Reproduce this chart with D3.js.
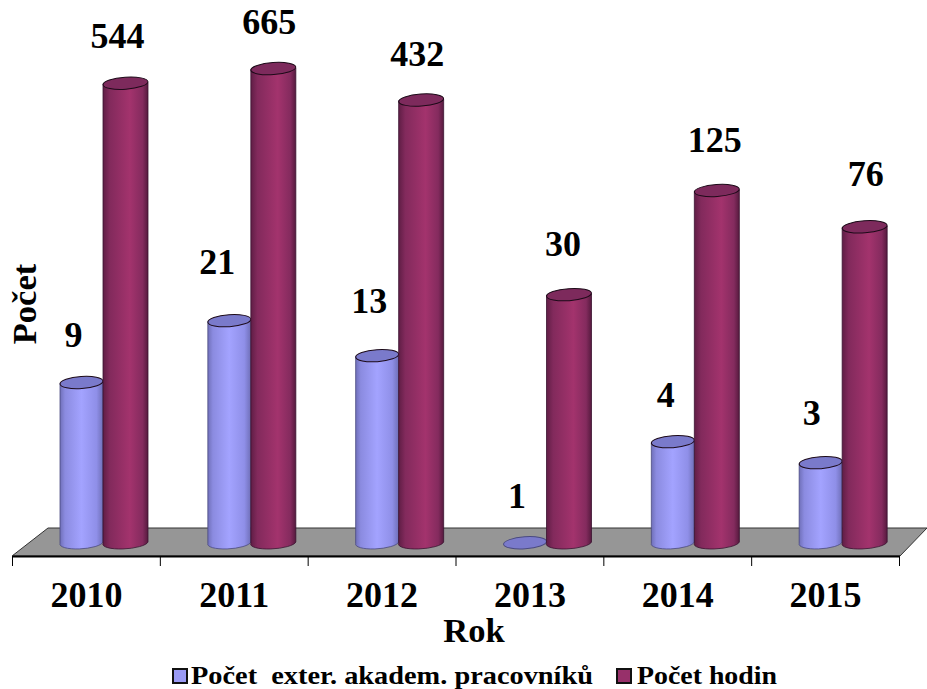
<!DOCTYPE html>
<html>
<head>
<meta charset="utf-8">
<script src="https://cdn.jsdelivr.net/npm/d3@7/dist/d3.min.js"></script>
<style>
  html, body { margin: 0; padding: 0; background: #fff; }
  svg { display: block; }
  text { font-family: "Liberation Serif", serif; font-weight: bold; fill: #000; white-space: pre; }
</style>
</head>
<body>
<svg id="chart" width="927" height="689"></svg>
<script>
const years = ["2010", "2011", "2012", "2013", "2014", "2015"];
const staffCounts = [9, 21, 13, 1, 4, 3];
const hourCounts = [544, 665, 432, 30, 125, 76];
const seriesNames = ["Počet  exter. akadem. pracovníků", "Počet hodin"];
// Per-label adjustments: lift above the column and sideways shift
const staffLabelLift = [0, 11, 7, 0, -1, 2];
const hourLabelLift = [0, -1, -1, 3, 3, 6];
const staffLabelShift = [0, -4, 0, 0, 1, -1];
const hourLabelShift = [0, 4, 4, 2, 6, 9];

const svg = d3.select("#chart");
const defs = svg.append("defs");

const x = d3.scaleBand().domain(years).range([12.5, 899.5]);
const member = d3.scalePoint().domain(seriesNames).range([69, 113]);
const y = d3.scaleLog().domain([1, 1000]).range([543.5, 39.5]);

function bodyGradient(id, stops) {
  const g = defs.append("linearGradient").attr("id", id);
  stops.forEach(([o, c]) => g.append("stop").attr("offset", o).attr("stop-color", c));
}
bodyGradient("staffBody", [[0, "#6f6fb8"], [0.12, "#8b8be0"], [0.5, "#a3a3ff"], [0.85, "#8f8fe8"], [1, "#6f6fb8"]]);
bodyGradient("hourBody", [[0, "#5f1d45"], [0.15, "#822a5c"], [0.6, "#a3336d"], [0.88, "#842b5e"], [1, "#561a3e"]]);

// Floor of the 3D plot
const floorPts = [[12, 556], [48, 528], [927, 528], [900, 556]];
svg.append("path")
  .attr("d", d3.line()(floorPts) + "Z")
  .attr("fill", "#969696")
  .attr("stroke", "#333")
  .attr("stroke-width", 1);

// Category axis: labels centred in the bands, ticks on the band edges
const axisY = 556;
const axis = svg.append("g")
  .attr("transform", `translate(0,${axisY})`)
  .call(d3.axisBottom(x).tickSize(0).tickPadding(25));
axis.select(".domain").attr("stroke", "#000").attr("stroke-width", 2);
axis.selectAll("text").attr("font-size", 36).attr("font-family", null);
const edges = years.map(d => x(d)).concat(x.range()[1]);
axis.selectAll("line.edge").data(edges).join("line")
  .attr("class", "edge")
  .attr("x1", d => d).attr("x2", d => d)
  .attr("y1", 0).attr("y2", 10)
  .attr("stroke", "#000").attr("stroke-width", 1);

const ry = 6, tilt = -4;

function drawColumns(values, name, bodyFill, capFill, edgeColor, r) {
  const g = svg.append("g");
  years.forEach((yr, i) => {
    const v = values[i];
    const cx = x(yr) + member(name);
    const top = y(v), base = y(1);
    const col = g.append("g");
    if (v > 1) {
      col.append("path")
        .attr("d", `M${cx - r},${top} L${cx - r},${base} A${r},${ry} ${tilt} 0 0 ${cx + r},${base - 1.5} L${cx + r},${top - 1.5} Z`)
        .attr("fill", bodyFill)
        .attr("stroke", edgeColor)
        .attr("stroke-width", 0.8);
    }
    col.append("ellipse")
      .attr("cx", cx).attr("cy", top - 0.7)
      .attr("rx", r).attr("ry", ry)
      .attr("transform", `rotate(${tilt} ${cx} ${top - 0.7})`)
      .attr("fill", capFill)
      .attr("stroke", v > 1 ? "#1c0a18" : edgeColor)
      .attr("stroke-width", 1);
  });
}
drawColumns(staffCounts, seriesNames[0], "url(#staffBody)", "#7a7acb", "#4a4a80", 21.5);
drawColumns(hourCounts, seriesNames[1], "url(#hourBody)", "#7d2a5c", "#3a1230", 22.5);

// Value labels
function drawLabels(values, lifts, shifts, name) {
  svg.append("g").selectAll("text").data(values).join("text")
    .attr("x", (d, i) => x(years[i]) + member(name) - 8 + shifts[i])
    .attr("y", (d, i) => y(d) - 36 - lifts[i])
    .attr("text-anchor", "middle")
    .attr("font-size", 36)
    .text(d => d);
}
drawLabels(staffCounts, staffLabelLift, staffLabelShift, seriesNames[0]);
drawLabels(hourCounts, hourLabelLift, hourLabelShift, seriesNames[1]);

// Axis titles
svg.append("text").attr("x", 474).attr("y", 642).attr("text-anchor", "middle")
  .attr("font-size", 34.5).text("Rok");
svg.append("text").attr("transform", "translate(36,304) rotate(-90)").attr("text-anchor", "middle")
  .attr("font-size", 34.5).text("Počet");

// Legend
const legendColors = ["#9a9af5", "#97306a"];
const legendX = [173, 617];
const legendTextX = [191, 637];
const legendLen = [402, 140];
seriesNames.forEach((name, i) => {
  svg.append("rect").attr("x", legendX[i]).attr("y", 669)
    .attr("width", 14).attr("height", 14)
    .attr("fill", legendColors[i]).attr("stroke", "#111").attr("stroke-width", 2);
  svg.append("text").attr("x", legendTextX[i]).attr("y", 684)
    .attr("font-size", 26)
    .attr("textLength", legendLen[i])
    .attr("lengthAdjust", "spacingAndGlyphs")
    .text(name);
});
</script>
</body>
</html>
